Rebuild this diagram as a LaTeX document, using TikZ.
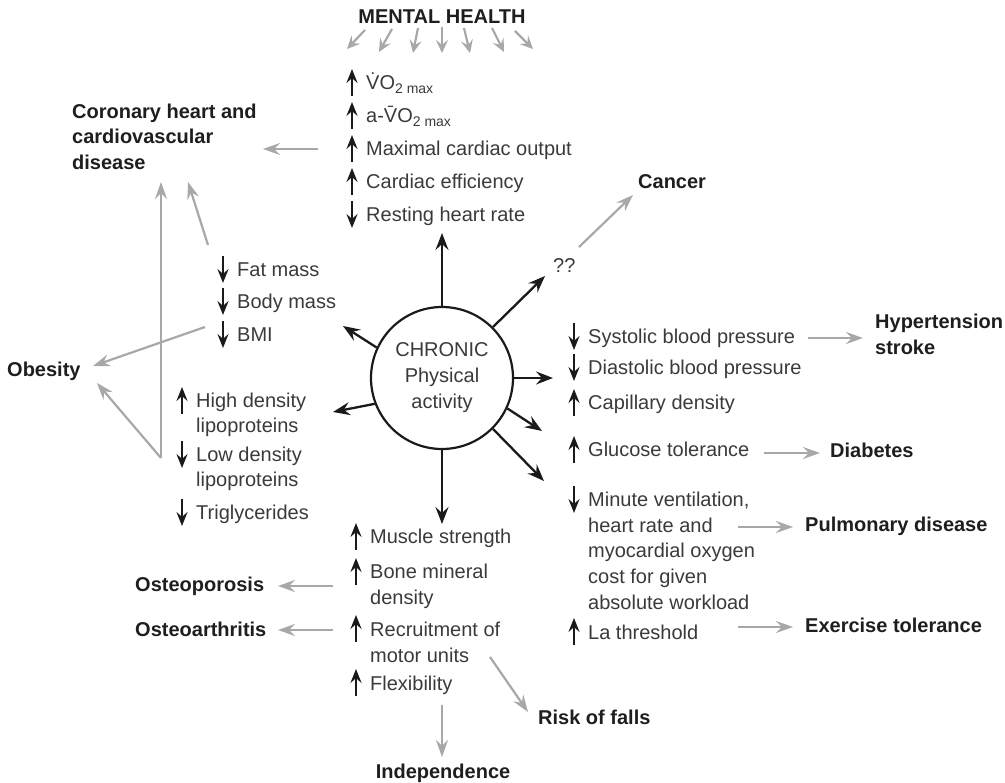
\documentclass[tikz,border=0pt]{standalone}
\usepackage{fontspec}
\setmainfont{Liberation Sans}
\usetikzlibrary{arrows.meta,calc}
\definecolor{txt}{HTML}{3A3A3A}
\definecolor{btxt}{HTML}{1E1E1E}
\definecolor{garrow}{HTML}{A8A8A8}
\definecolor{karrow}{HTML}{1A1A1A}
\newcommand\upmark[1]{\draw[updn] ($(#1.base west)+(-14,6)$) -- ($(#1.base west)+(-14,-21)$);}
\newcommand\dnmark[1]{\draw[updn] ($(#1.base west)+(-14,-21)$) -- ($(#1.base west)+(-14,6)$);}
\begin{document}
\begin{tikzpicture}[x=1pt,y=-1pt,
  item/.style={anchor=base west, inner sep=0pt, text=txt, font=\fontsize{20}{25.5}\selectfont},
  lbl/.style={anchor=base west, inner sep=0pt, text=btxt, font=\fontsize{20}{25.5}\selectfont\bfseries},
  garr/.style={draw=garrow, line width=2.2pt, -{Stealth[length=17pt,width=12pt,inset=6pt]}},
  gsmall/.style={draw=garrow, line width=2.2pt, -{Stealth[length=13pt,width=12pt,inset=5pt]}},
  karr/.style={draw=karrow, line width=2.3pt, -{Stealth[length=17pt,width=13pt,inset=6pt]}},
  updn/.style={draw=karrow, line width=2.2pt, -{Stealth[length=14pt,width=11pt,inset=5pt]}},
]
\useasboundingbox (0,0) rectangle (1005,783);

% MENTAL HEALTH
\node[lbl, anchor=base] (mh) at (442,24) {MENTAL HEALTH};
\coordinate (m1s) at (365,30); \coordinate (m1e) at (347,49);
\coordinate (m2s) at (392,29); \coordinate (m2e) at (379,52);
\coordinate (m3s) at (418,28); \coordinate (m3e) at (413,53);
\coordinate (m4s) at (442,27); \coordinate (m4e) at (442,53);
\coordinate (m5s) at (464,28); \coordinate (m5e) at (470,53);
\coordinate (m6s) at (492,28); \coordinate (m6e) at (504,52);
\coordinate (m7s) at (515,31); \coordinate (m7e) at (533,49);
\foreach \i in {1,...,7} {\draw[gsmall] (m\i s) -- (m\i e);}

% top list
\node[item] (t1) at (366,90) {V̇O\textsubscript{2 max}};
\node[item] (t2) at (366,123) {a-V̄O\textsubscript{2 max}};
\node[item] (t3) at (366,156) {Maximal cardiac output};
\node[item] (t4) at (366,189) {Cardiac efficiency};
\node[item] (t5) at (366,222) {Resting heart rate};
\upmark{t1}\upmark{t2}\upmark{t3}\upmark{t4}\dnmark{t5}

% coronary
\node[lbl] (cor1) at (72,119) {Coronary heart and};
\node[lbl] (cor2) at (72,144) {cardiovascular};
\node[lbl] (cor3) at (72,170) {disease};
\coordinate (cvs) at (318,149); \coordinate (cve) at (263,149);
\draw[garr] (cvs) -- (cve);

% obesity
\node[lbl] (ob) at (7,377) {Obesity};
\coordinate (vb) at (161,458);
\coordinate (vt) at (161,182);
\coordinate (fms) at (208,245); \coordinate (fme) at (188,182);
\coordinate (obl) at (97,383);
\coordinate (bmis) at (205,327); \coordinate (bmie) at (93,366);
\draw[garr] (vb) -- (vt);
\draw[garr] (vb) -- (obl);
\draw[garr] (fms) -- (fme);
\draw[garr] (bmis) -- (bmie);

% fat list
\node[item] (f1) at (237,277) {Fat mass};
\node[item] (f2) at (237,309) {Body mass};
\node[item] (f3) at (237,342) {BMI};
\dnmark{f1}\dnmark{f2}\dnmark{f3}

% lipid list
\node[item] (h1) at (196,408) {High density};
\node[item] (h2) at (196,433) {lipoproteins};
\node[item] (h3) at (196,462) {Low density};
\node[item] (h4) at (196,487) {lipoproteins};
\node[item] (h5) at (196,520) {Triglycerides};
\upmark{h1}\dnmark{h3}\dnmark{h5}

% centre
\node[circle, draw=karrow, line width=2.2pt, minimum size=142pt, inner sep=0pt,
      align=center, text=txt, font=\fontsize{20}{26}\selectfont] (pa) at (442,378)
      {CHRONIC\\Physical\\activity};
\coordinate (kup) at (442,233);
\coordinate (kur) at (545,276);
\coordinate (kul) at (343,326);
\coordinate (kl) at (333,412);
\coordinate (kr) at (553,378);
\coordinate (kdr1) at (542,431);
\coordinate (kdr2) at (544,481);
\coordinate (kdn) at (442,524);
\draw[karr] (pa.90) -- (kup);
\draw[karr] (pa.45) -- (kur);
\draw[karr] (pa.155) -- (kul);
\draw[karr] (pa.201) -- (kl);
\draw[karr] (pa.0) -- (kr);
\draw[karr] (pa.-25) -- (kdr1);
\draw[karr] (pa.-45) -- (kdr2);
\draw[karr] (pa.-90) -- (kdn);

% cancer
\node[item] (qq) at (553,273) {??};
\node[lbl] (can) at (638,189) {Cancer};
\coordinate (cas) at (579,247); \coordinate (cae) at (633,195);
\draw[garr] (cas) -- (cae);

% right list
\node[item] (r1) at (588,344) {Systolic blood pressure};
\node[item] (r2) at (588,375) {Diastolic blood pressure};
\node[item] (r3) at (588,410) {Capillary density};
\node[item] (r4) at (588,457) {Glucose tolerance};
\node[item] (r5) at (588,507) {Minute ventilation,};
\node[item] (r6) at (588,532.5) {heart rate and};
\node[item] (r7) at (588,558) {myocardial oxygen};
\node[item] (r8) at (588,583.5) {cost for given};
\node[item] (r9) at (588,609) {absolute workload};
\node[item] (r10) at (588,639) {La threshold};
\dnmark{r1}\dnmark{r2}\upmark{r3}\upmark{r4}\dnmark{r5}\upmark{r10}

\node[lbl] (hyp1) at (875,329) {Hypertension};
\node[lbl] (hyp2) at (875,355) {stroke};
\node[lbl] (dia) at (830,458) {Diabetes};
\node[lbl] (pul) at (805,532) {Pulmonary disease};
\node[lbl] (exe) at (805,632) {Exercise tolerance};
\coordinate (hys) at (808,338); \coordinate (hye) at (863,338);
\coordinate (dis) at (764,453); \coordinate (die) at (820,453);
\coordinate (pus) at (738,527); \coordinate (pue) at (793,527);
\coordinate (exs) at (738,627); \coordinate (exe2) at (793,627);
\draw[garr] (hys) -- (hye);
\draw[garr] (dis) -- (die);
\draw[garr] (pus) -- (pue);
\draw[garr] (exs) -- (exe2);

% bottom list
\node[item] (b1) at (370,544) {Muscle strength};
\node[item] (b2) at (370,579) {Bone mineral};
\node[item] (b3) at (370,605) {density};
\node[item] (b4) at (370,636) {Recruitment of};
\node[item] (b5) at (370,662) {motor units};
\node[item] (b6) at (370,690) {Flexibility};
\upmark{b1}\upmark{b2}\upmark{b4}\upmark{b6}

\node[lbl] (osp) at (135,592) {Osteoporosis};
\node[lbl] (osa) at (135,637) {Osteoarthritis};
\node[lbl] (rof) at (538,724) {Risk of falls};
\node[lbl, anchor=base] (ind) at (443,778) {Independence};
\coordinate (ops) at (333,586); \coordinate (ope) at (278,586);
\coordinate (oas) at (333,630); \coordinate (oae) at (278,630);
\coordinate (rfs) at (490,657); \coordinate (rfe) at (528,712);
\coordinate (ins) at (442,705); \coordinate (ine) at (442,757);
\draw[garr] (ops) -- (ope);
\draw[garr] (oas) -- (oae);
\draw[garr] (rfs) -- (rfe);
\draw[garr] (ins) -- (ine);
\end{tikzpicture}
\end{document}
